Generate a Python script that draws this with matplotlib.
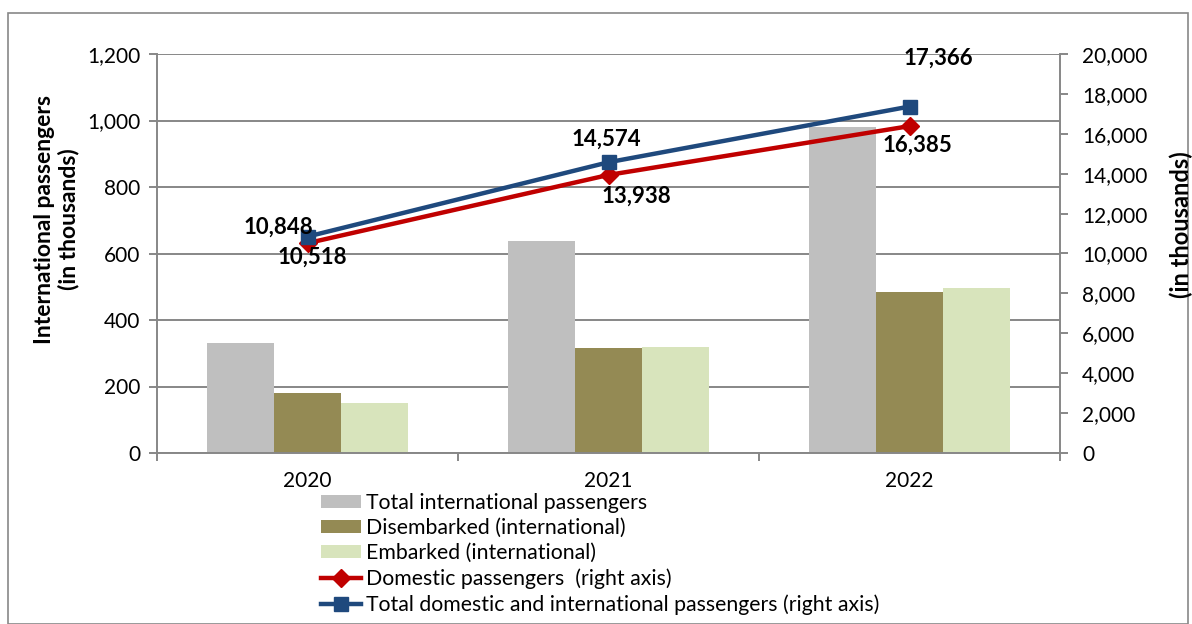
import matplotlib
matplotlib.use("Agg")
import matplotlib.pyplot as plt
from matplotlib.patches import Rectangle
from matplotlib.ticker import FuncFormatter, FixedLocator
import numpy as np

plt.rcParams['font.family'] = ['Lato', 'DejaVu Sans']

years = ["2020", "2021", "2022"]
total_intl = [331, 638, 980]
disembarked = [180, 316, 484]
embarked = [150, 319, 496]
domestic = [10518, 13938, 16385]
total_all = [10848, 14574, 17366]

labels = ["Total international passengers", "Disembarked (international)",
          "Embarked (international)", "Domestic passengers  (right axis)",
          "Total domestic and international passengers (right axis)"]

W, H = 1192, 624
fig = plt.figure(figsize=(W / 100, H / 100), dpi=100)
fig.patches.append(Rectangle((8 / W, 0), (1188 - 8) / W, (H - 13) / H,
                             transform=fig.transFigure, fill=False,
                             edgecolor='#888888', linewidth=1.2))

ax = fig.add_axes([157 / W, 1 - 453 / H, (1060 - 157) / W, (453 - 54) / H])
x = np.arange(len(years))
bw = 0.222
grid_c = '#878787'
ax.bar(x - bw, total_intl, bw, color='#BFBFBF', label=labels[0], zorder=2)
ax.bar(x, disembarked, bw, color='#948A54', label=labels[1], zorder=2)
ax.bar(x + bw, embarked, bw, color='#D8E4BC', label=labels[2], zorder=2)

ax.set_xlim(-0.5, 2.5)
ax.set_ylim(0, 1200)
ax.set_yticks(np.arange(0, 1201, 200))
ax.yaxis.set_major_formatter(FuncFormatter(lambda v, p: f"{int(v):,}"))
ax.grid(axis='y', color=grid_c, linewidth=1.4, zorder=0)
ax.set_axisbelow(True)
ax.xaxis.set_major_locator(FixedLocator([-0.5, 0.5, 1.5, 2.5]))
ax.xaxis.set_major_formatter(FuncFormatter(lambda v, p: ""))
ax.xaxis.set_minor_locator(FixedLocator(list(x)))
ax.set_xticklabels(years, minor=True)
ax.tick_params(axis='x', which='minor', length=0, labelsize=15, pad=13)
ax.tick_params(axis='x', which='major', length=6, color=grid_c, width=1.4)
ax.tick_params(axis='y', length=6, color=grid_c, width=1.4, labelsize=15, pad=6)
for s in ['top', 'right']:
    ax.spines[s].set_visible(False)
for s in ['left', 'bottom']:
    ax.spines[s].set_color(grid_c)
    ax.spines[s].set_linewidth(1.4)

ax2 = ax.twinx()
ax2.set_ylim(0, 20000)
ax2.set_yticks(np.arange(0, 20001, 2000))
ax2.yaxis.set_major_formatter(FuncFormatter(lambda v, p: f"{int(v):,}"))
ax2.tick_params(axis='y', length=6, color=grid_c, width=1.4, labelsize=15, pad=10)
for s in ['top', 'left', 'bottom']:
    ax2.spines[s].set_visible(False)
ax2.spines['right'].set_color(grid_c)
ax2.spines['right'].set_linewidth(1.4)

ax2.plot(x, domestic, color='#C00000', linewidth=3.2, marker='D', markersize=9,
         label=labels[3], zorder=3)
ax2.plot(x, total_all, color='#1F497D', linewidth=3.2, marker='s', markersize=9.5,
         label=labels[4], zorder=4)

dom_off = [(5, -14), (28, -21), (8, -19)]
tot_off = [(-29, 9), (-2, 23), (29, 48)]
for i in range(len(years)):
    ax2.annotate(f"{domestic[i]:,}", (x[i], domestic[i]), xytext=(dom_off[i][0] * 0.72, dom_off[i][1] * 0.72),
                 textcoords='offset points', ha='center', va='center',
                 fontsize=16, fontweight='bold', zorder=6)
    ax2.annotate(f"{total_all[i]:,}", (x[i], total_all[i]), xytext=(tot_off[i][0] * 0.72, tot_off[i][1] * 0.72),
                 textcoords='offset points', ha='center', va='center',
                 fontsize=16, fontweight='bold', zorder=6)

fig.text(57 / W, 1 - 219 / H, "International passengers\n(in thousands)", rotation=90,
         ha='center', va='center', fontsize=16.5, fontweight='bold', linespacing=1.15)
fig.text(1181 / W, 1 - 225 / H, "(in thousands)", rotation=90,
         ha='center', va='center', fontsize=17, fontweight='bold')

h1, l1 = ax.get_legend_handles_labels()
h2, l2 = ax2.get_legend_handles_labels()
fig.legend(h1 + h2, l1 + l2, loc='upper left', bbox_to_anchor=(321 / W, 1 - 493 / H),
           frameon=False, fontsize=15.3, handlelength=1.9, handleheight=0.55,
           handletextpad=0.2, labelspacing=0.24, borderpad=0, borderaxespad=0)

fig.savefig("out.png", dpi=100)
